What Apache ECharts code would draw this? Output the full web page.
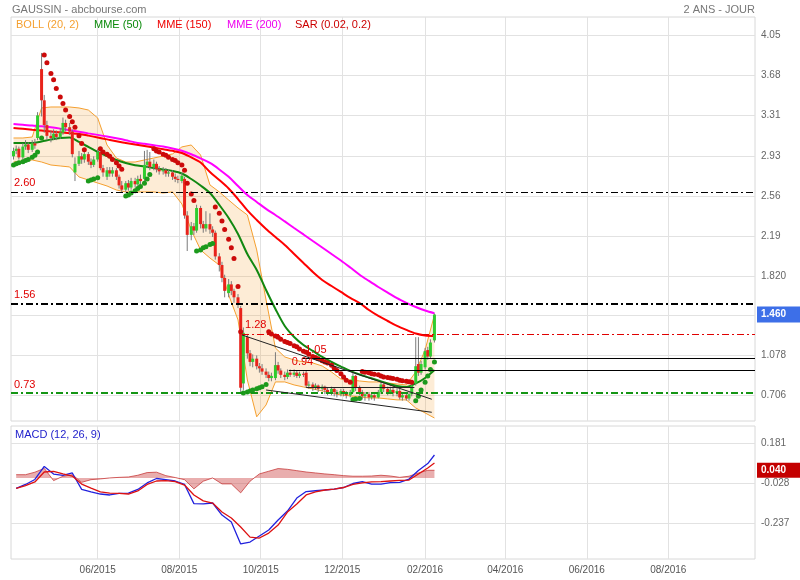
<!DOCTYPE html>
<html><head><meta charset="utf-8">
<script src="https://cdn.jsdelivr.net/npm/echarts@6/dist/echarts.min.js"></script>
<style>html,body{margin:0;padding:0;background:#fff}#c{width:800px;height:580px}</style>
</head><body><div id="c"></div>
<script>
const FONT = 'Liberation Sans, Arial, Helvetica, sans-serif';

// ---- DATA ----
const firstSession = '2015-03-30';           // Monday of first plotted session
const sessionWeekdays = [0, 2, 4];          // sessions sampled Mon / Wed / Fri
// candles: [open, close, low, high]
const candles = [
[2.93,2.98,2.90,3.01],[2.98,3.00,2.95,3.03],[3.00,2.92,2.90,3.02],
[2.92,3.02,2.90,3.05],[3.02,3.04,2.99,3.08],[3.04,2.99,2.96,3.06],
[2.99,3.05,2.97,3.08],[3.05,3.03,3.00,3.09],[3.10,3.31,3.08,3.34],
[3.74,3.45,3.30,3.89],[3.45,3.22,3.15,3.50],[3.22,3.12,3.08,3.26],
[3.12,3.10,3.06,3.17],[3.10,3.14,3.08,3.18],[3.14,3.11,3.08,3.17],
[3.11,3.15,3.09,3.19],[3.15,3.24,3.13,3.29],[3.24,3.20,3.16,3.27],
[3.20,3.16,3.13,3.24],[3.16,2.95,2.92,3.18],[2.78,2.86,2.70,2.92],
[2.86,2.93,2.84,2.98],[2.93,2.90,2.86,2.96],[2.90,2.95,2.87,2.98],
[2.95,2.88,2.85,2.97],[2.88,2.85,2.82,2.91],[2.85,2.90,2.83,2.93],
[2.90,2.97,2.88,3.00],[2.97,2.82,2.80,2.99],[2.82,2.78,2.74,2.85],
[2.74,2.80,2.71,2.83],[2.80,2.77,2.74,2.83],[2.77,2.80,2.74,2.83],
[2.80,2.74,2.71,2.82],[2.74,2.66,2.63,2.76],[2.66,2.62,2.60,2.70],
[2.62,2.68,2.60,2.70],[2.68,2.64,2.61,2.71],[2.64,2.70,2.62,2.73],
[2.70,2.67,2.64,2.73],[2.67,2.72,2.65,2.75],[2.72,2.70,2.67,2.76],
[2.72,2.85,2.70,2.98],[2.85,2.88,2.82,2.99],[2.88,2.83,2.80,2.97],
[2.83,2.86,2.80,2.90],[2.86,2.81,2.78,2.88],[2.81,2.79,2.76,2.84],
[2.79,2.80,2.76,2.83],[2.80,2.77,2.74,2.82],[2.77,2.78,2.74,2.81],
[2.78,2.74,2.71,2.80],[2.74,2.72,2.69,2.77],[2.72,2.71,2.68,2.75],
[2.70,2.75,2.68,2.78],[2.72,2.38,2.35,2.74],[2.38,2.20,2.05,2.42],
[2.20,2.28,2.15,2.32],[2.28,2.24,2.20,2.31],[2.24,2.45,2.22,2.48],
[2.45,2.30,2.26,2.47],[2.30,2.26,2.22,2.33],[2.26,2.30,2.23,2.42],
[2.30,2.25,2.21,2.40],[2.25,2.22,2.18,2.28],[2.22,2.00,1.97,2.24],
[2.00,1.92,1.86,2.03],[1.92,1.80,1.76,1.95],[1.80,1.68,1.62,1.83],
[1.66,1.74,1.62,1.79],[1.74,1.68,1.64,1.77],[1.68,1.62,1.57,1.70],
[1.62,1.55,1.52,1.65],[1.52,0.78,0.73,1.54],[0.82,1.29,0.76,1.34],
[1.25,1.10,1.05,1.28],[1.10,1.02,0.98,1.13],[1.02,1.05,0.97,1.09],
[1.05,0.98,0.95,1.08],[0.98,0.96,0.92,1.01],[0.96,0.93,0.90,1.00],
[0.93,0.90,0.87,0.96],[0.90,0.87,0.84,0.93],[0.87,0.89,0.84,0.92],
[0.87,0.99,0.85,1.11],[0.99,0.94,0.91,1.02],[0.94,0.90,0.87,0.96],
[0.90,0.88,0.85,0.93],[0.88,0.92,0.86,0.95],[0.92,0.90,0.88,0.95],
[0.90,0.92,0.88,0.95],[0.92,0.89,0.87,0.94],[0.89,0.91,0.87,0.93],
[0.91,0.90,0.88,0.93],[0.92,0.80,0.78,0.94],[0.80,0.81,0.77,0.84],
[0.81,0.78,0.75,0.83],[0.78,0.80,0.76,0.82],[0.80,0.77,0.74,0.81],
[0.77,0.79,0.75,0.81],[0.79,0.76,0.72,0.80],[0.76,0.74,0.71,0.78],
[0.74,0.77,0.71,0.79],[0.77,0.74,0.70,0.78],[0.74,0.72,0.69,0.76],
[0.72,0.75,0.70,0.77],[0.75,0.73,0.70,0.77],[0.73,0.71,0.68,0.75],
[0.71,0.74,0.69,0.76],[0.74,0.89,0.73,0.92],[0.89,0.78,0.75,0.90],
[0.78,0.74,0.71,0.80],[0.74,0.70,0.67,0.76],[0.70,0.72,0.66,0.74],
[0.72,0.69,0.66,0.74],[0.69,0.71,0.67,0.73],[0.71,0.69,0.66,0.72],
[0.69,0.74,0.68,0.76],[0.74,0.81,0.72,0.83],[0.81,0.77,0.74,0.82],
[0.77,0.74,0.71,0.79],[0.74,0.76,0.72,0.79],[0.76,0.73,0.70,0.78],
[0.73,0.75,0.70,0.78],[0.75,0.69,0.67,0.77],[0.69,0.71,0.66,0.73],
[0.71,0.68,0.66,0.73],[0.68,0.72,0.66,0.74],[0.72,0.80,0.70,0.82],
[0.82,0.98,0.80,1.25],[1.00,0.92,0.89,1.25],[0.92,1.00,0.90,1.03],
[0.97,1.12,0.95,1.15],[1.13,1.07,1.04,1.16],[1.07,1.20,1.05,1.23],
[1.22,1.46,1.20,1.47]
];
// Parabolic SAR (one value per session)
const sar = [
2.85,2.86,2.87,2.88,2.89,2.90,2.92,2.94,2.97,3.10,
3.87,3.80,3.70,3.64,3.56,3.48,3.42,3.36,3.30,3.25,
3.20,3.12,3.05,2.99,2.70,2.71,2.72,2.73,3.00,2.97,
2.95,2.93,2.90,2.87,2.84,2.81,2.56,2.57,2.59,2.61,
2.63,2.65,2.68,2.72,2.76,3.00,2.98,2.97,2.95,2.94,
2.92,2.90,2.89,2.87,2.85,2.80,2.68,2.58,2.52,2.05,
2.06,2.08,2.09,2.11,2.12,2.46,2.40,2.33,2.25,2.16,
2.08,1.98,1.72,1.30,0.73,0.74,0.75,0.76,0.77,0.78,
0.79,0.81,1.30,1.28,1.26,1.25,1.23,1.21,1.20,1.19,
1.17,1.16,1.14,1.12,1.11,1.09,1.07,1.06,1.05,1.03,
1.02,1.01,0.99,0.96,0.94,0.91,0.88,0.85,0.83,0.67,
0.675,0.68,0.93,0.925,0.92,0.91,0.905,0.90,0.89,0.88,
0.875,0.87,0.865,0.86,0.85,0.845,0.84,0.835,0.83,0.66,
0.70,0.76,0.83,0.89,0.95,1.02
];
// weekly indicator readings (Monday of each week)
const mme50 = [3.054,3.054,3.054,3.068,3.086,3.100,3.105,3.063,3.017,2.970,2.933,2.896,2.868,2.847,2.835,2.821,2.808,2.794,2.770,2.719,2.659,2.589,2.478,2.357,2.208,2.022,1.874,1.688,1.512,1.354,1.252,1.177,1.122,1.066,1.019,0.977,0.936,0.903,0.875,0.848,0.820,0.796,0.787,0.820,0.871,0.945];
const mme150 = [3.193,3.185,3.177,3.169,3.160,3.153,3.145,3.137,3.122,3.105,3.087,3.069,3.054,3.039,3.025,3.011,2.996,2.981,2.961,2.919,2.872,2.784,2.710,2.631,2.533,2.427,2.338,2.255,2.180,2.106,2.023,1.939,1.855,1.781,1.725,1.670,1.614,1.567,1.502,1.447,1.400,1.354,1.317,1.284,1.266,1.261];
const mme200 = [3.230,3.223,3.215,3.209,3.200,3.187,3.172,3.158,3.143,3.129,3.114,3.097,3.079,3.059,3.046,3.033,3.020,3.003,2.981,2.949,2.910,2.868,2.808,2.739,2.654,2.571,2.506,2.441,2.385,2.325,2.264,2.204,2.143,2.083,2.022,1.962,1.897,1.830,1.772,1.716,1.664,1.612,1.569,1.530,1.497,1.472];
const bollUpper = [3.100,3.100,3.109,3.379,3.388,3.388,3.388,3.379,3.360,3.286,3.035,2.914,2.877,2.877,2.896,2.914,2.933,2.952,3.017,3.035,2.942,2.664,2.599,2.524,2.450,2.385,2.060,1.595,1.149,1.066,1.038,1.019,1.010,0.982,0.926,0.861,0.852,0.843,0.834,0.834,0.824,0.815,0.806,0.927,1.131,1.456];
const bollLower = [2.877,2.886,2.896,2.877,2.849,2.840,2.831,2.738,2.710,2.682,2.654,2.617,2.599,2.599,2.599,2.599,2.589,2.599,2.487,2.245,2.060,1.985,1.920,1.642,1.410,0.852,0.510,0.620,0.834,0.834,0.806,0.787,0.769,0.750,0.731,0.713,0.704,0.694,0.685,0.685,0.676,0.667,0.667,0.592,0.546,0.499];
// MACD readings (Wednesday of each week, last = last session)
const macdLine = [-0.055,-0.034,-0.008,0.060,0.020,0.013,0.026,-0.060,-0.073,-0.084,-0.089,-0.081,-0.079,-0.060,-0.026,-0.003,-0.009,-0.016,-0.034,-0.134,-0.135,-0.131,-0.194,-0.230,-0.345,-0.335,-0.303,-0.272,-0.220,-0.173,-0.105,-0.071,-0.067,-0.063,-0.058,-0.050,-0.029,-0.019,-0.032,-0.032,-0.024,-0.023,-0.006,0.039,0.075,0.120];
const macdSignal = [-0.055,-0.040,-0.021,0.031,0.034,0.021,0.010,-0.032,-0.053,-0.073,-0.079,-0.081,-0.084,-0.068,-0.034,-0.016,-0.014,-0.019,-0.037,-0.089,-0.120,-0.131,-0.178,-0.209,-0.256,-0.309,-0.314,-0.288,-0.246,-0.178,-0.136,-0.089,-0.073,-0.063,-0.058,-0.050,-0.034,-0.026,-0.021,-0.019,-0.016,-0.013,-0.011,0.021,0.052,0.078];
const macdHist = [0.017,0.017,0.030,0.050,-0.014,0.009,0.017,-0.023,-0.009,-0.005,0,0.003,0.005,0.014,0.028,0.030,0.012,0.002,-0.009,-0.057,-0.017,0,-0.031,-0.031,-0.078,-0.017,0.021,0.035,0.049,0.045,0.038,0.031,0.026,0.021,0.017,0.012,0.009,0.009,0.010,0.014,0.010,0.003,0.009,0.026,0.040,0.040];

const xTickLabels = ['06/2015','08/2015','10/2015','12/2015','02/2016','04/2016','06/2016','08/2016'];
const yTickLabels = ['0.706','1.078','1.449','1.820','2.19','2.56','2.93','3.31','3.68','4.05'];
const macdTickLabels = ['-0.237','-0.028','0.181'];
const axisStart = '2015-03-28 03';
const axisEnd = '2016-10-04 21';
const mainRange = [0.471, 4.224];
const macdRange = [-0.4235, 0.2714];

const fullLevels = [2.60, 1.56, 0.73];
const segLevelStarts = ['2015-09-17', '2015-11-01', '2015-10-22'];
const segLevelValues = [1.28, 1.05, 0.94];
const boxLine = [['2015-11-04', 0.78], ['2016-01-24', 0.78]];
const trendA = [['2015-09-17', 1.27], ['2016-02-06', 0.673]];
const trendB = [['2015-10-05', 0.759], ['2016-02-06', 0.552]];
const lastPriceTag = 1.46;
const lastHistTag = 0.040;

// ---- BUILD ----
function ts(s) {
  const p = s.split(' ');
  const d = p[0].split('-').map(Number);
  return new Date(d[0], d[1] - 1, d[2], p[1] ? Number(p[1]) : 0).getTime();
}
const f0 = firstSession.split('-').map(Number);
const dates = candles.map((_, i) => new Date(f0[0], f0[1] - 1, f0[2] + 7 * Math.floor(i / 3) + sessionWeekdays[i % 3]).getTime());
const weekDates = mme50.map((_, w) => dates[Math.min(3 * w, dates.length - 1)]);
const macdDates = macdLine.map((_, w) => dates[Math.min(3 * w + 1, dates.length - 1)]);
const tMin = ts(axisStart), tMax = ts(axisEnd);
const xTicks = xTickLabels.map(s => { const p = s.split('/').map(Number); return new Date(p[1], p[0] - 1, 1).getTime(); });
const yTicks = yTickLabels.map(Number);
const macdTicks = macdTickLabels.map(Number);
function nearestLabel(v, ticks, labels) {
  let bi = 0, bd = Infinity;
  ticks.forEach((t, i) => { const d = Math.abs(t - v); if (d < bd) { bd = d; bi = i; } });
  return labels[bi];
}
const pair = (xs, ys) => xs.map((x, i) => [x, ys[i]]);

const sarGreen = [], sarRed = [];
sar.forEach((v, i) => { (v < candles[i][1] ? sarGreen : sarRed).push([dates[i], v]); });

const dashDot = [7, 3, 2, 3];
const lvlLabel = (txt) => ({ show: true, formatter: txt, position: 'insideStartTop', color: '#e00000', fontSize: 11, fontFamily: FONT, distance: 3 });
const fullStyles = [
  { color: '#000', width: 1, type: dashDot },
  { color: '#000', width: 2, type: dashDot },
  { color: '#149614', width: 2, type: dashDot }
];
const segStyles = [
  { color: '#e00000', width: 1, type: dashDot },
  { color: '#000', width: 1, type: 'solid' },
  { color: '#000', width: 1, type: 'solid' }
];
const markLines = [];
fullLevels.forEach((v, i) => markLines.push({ yAxis: v, lineStyle: fullStyles[i], label: lvlLabel(v.toFixed(2)) }));
segLevelValues.forEach((v, i) => markLines.push([
  { coord: [ts(segLevelStarts[i]), v], lineStyle: segStyles[i], label: lvlLabel(v.toFixed(2)) },
  { coord: [tMax, v] }
]));
[boxLine, trendA, trendB].forEach(l => markLines.push([
  { coord: [ts(l[0][0]), l[0][1]], lineStyle: { color: '#222', width: 1, type: 'solid' }, label: { show: false } },
  { coord: [ts(l[1][0]), l[1][1]] }
]));

const gridLine = { show: true, lineStyle: { color: '#e2e2e2', width: 1 } };
const titles = [
  { text: 'GAUSSIN - abcbourse.com', left: 12, top: 4, color: '#777' },
  { text: '2 ANS - JOUR', right: 45, top: 4, color: '#777' },
  { text: 'BOLL (20, 2)', left: 16, top: 19, color: '#f5a030' },
  { text: 'MME (50)', left: 94, top: 19, color: '#0a8a0a' },
  { text: 'MME (150)', left: 157, top: 19, color: '#ee0000' },
  { text: 'MME (200)', left: 227, top: 19, color: '#ee00ee' },
  { text: 'SAR (0.02, 0.2)', left: 295, top: 19, color: '#cc0000' },
  { text: 'MACD (12, 26, 9)', left: 15, top: 429, color: '#2222cc' }
].map(t => ({ text: t.text, left: t.left, right: t.right, top: t.top, padding: 0,
  textStyle: { fontSize: 11, fontWeight: 'normal', color: t.color, fontFamily: FONT } }));

const chart = echarts.init(document.getElementById('c'), null, { renderer: 'canvas' });
chart.setOption({
  animation: false,
  backgroundColor: '#fff',
  textStyle: { fontFamily: FONT },
  title: titles,
  grid: [
    { left: 11, top: 17, width: 744, height: 404, show: true, borderColor: '#d8d8d8', borderWidth: 1, backgroundColor: 'transparent', outerBoundsMode: 'none' },
    { left: 11, top: 426, width: 744, height: 133, show: true, borderColor: '#d8d8d8', borderWidth: 1, backgroundColor: 'transparent', outerBoundsMode: 'none' }
  ],
  xAxis: [0, 1].map(g => ({
    type: 'value', gridIndex: g, min: tMin, max: tMax, scale: true,
    axisLine: { show: false },
    axisTick: { show: false, customValues: xTicks },
    axisLabel: g === 1 ? { show: true, customValues: xTicks, color: '#555', fontSize: 10, margin: 6, fontFamily: FONT,
      formatter: v => nearestLabel(v, xTicks, xTickLabels) } : { show: false, customValues: xTicks },
    splitLine: gridLine
  })),
  yAxis: [
    { type: 'value', gridIndex: 0, position: 'right', min: mainRange[0], max: mainRange[1],
      axisLine: { show: false }, axisTick: { show: false, customValues: yTicks },
      axisLabel: { customValues: yTicks, color: '#666', fontSize: 10, margin: 6, fontFamily: FONT, formatter: v => nearestLabel(v, yTicks, yTickLabels) },
      splitLine: gridLine },
    { type: 'value', gridIndex: 1, position: 'right', min: macdRange[0], max: macdRange[1],
      axisLine: { show: false }, axisTick: { show: false, customValues: macdTicks },
      axisLabel: { customValues: macdTicks, color: '#666', fontSize: 10, margin: 6, fontFamily: FONT, formatter: v => nearestLabel(v, macdTicks, macdTickLabels) },
      splitLine: gridLine }
  ],
  series: [
    { name: 'bollFill', type: 'custom', xAxisIndex: 0, yAxisIndex: 0, z: 1, silent: true,
      data: weekDates.map((t, w) => [t, bollUpper[w], bollLower[w]]),
      encode: { x: 0, y: [1, 2] },
      renderItem: (params, api) => {
        if (params.dataIndex !== 0) return null;
        const up = weekDates.map((t, w) => api.coord([t, bollUpper[w]]));
        const lo = weekDates.map((t, w) => api.coord([t, bollLower[w]])).reverse();
        return { type: 'polygon', shape: { points: up.concat(lo) }, style: { fill: 'rgba(245,160,48,0.2)' } };
      } },
    { name: 'bollUp', type: 'line', xAxisIndex: 0, yAxisIndex: 0, symbol: 'none', z: 1,
      data: pair(weekDates, bollUpper), lineStyle: { color: '#f5a030', width: 1 } },
    { name: 'bollLow', type: 'line', xAxisIndex: 0, yAxisIndex: 0, symbol: 'none', z: 1,
      data: pair(weekDates, bollLower), lineStyle: { color: '#f5a030', width: 1 } },
    { name: 'MME200', type: 'line', xAxisIndex: 0, yAxisIndex: 0, symbol: 'none', z: 2, clip: false,
      data: pair(weekDates, mme200), smooth: 0.3, lineStyle: { color: '#ff00ff', width: 2 },
      markLine: { symbol: 'none', silent: true, animation: false, data: markLines },
      markPoint: { symbol: 'rect', symbolSize: [44, 16], symbolOffset: [24, 0], silent: true, animation: false,
        itemStyle: { color: '#3d6fe8' },
        label: { show: true, position: 'insideLeft', distance: 4, color: '#fff', fontWeight: 'bold', fontSize: 10, fontFamily: FONT,
          formatter: p => p.value.toFixed(3) },
        data: [{ coord: [tMax, lastPriceTag], value: lastPriceTag }] } },
    { name: 'MME150', type: 'line', xAxisIndex: 0, yAxisIndex: 0, symbol: 'none', z: 2, smooth: 0.3,
      data: pair(weekDates, mme150), lineStyle: { color: '#ff0000', width: 2 } },
    { name: 'MME50', type: 'line', xAxisIndex: 0, yAxisIndex: 0, symbol: 'none', z: 2, smooth: 0.3,
      data: pair(weekDates, mme50), lineStyle: { color: '#118811', width: 2 } },
    { name: 'price', type: 'custom', xAxisIndex: 0, yAxisIndex: 0, z: 3,
      data: dates.map((t, i) => [t].concat(candles[i])),
      encode: { x: 0, y: [1, 2, 3, 4] },
      renderItem: (params, api) => {
        const x = api.value(0), o = api.value(1), c = api.value(2), l = api.value(3), h = api.value(4);
        const pO = api.coord([x, o]), pC = api.coord([x, c]), pL = api.coord([x, l]), pH = api.coord([x, h]);
        const up = c >= o;
        const top = Math.min(pO[1], pC[1]);
        return { type: 'group', children: [
          { type: 'line', shape: { x1: pL[0], y1: pL[1], x2: pH[0], y2: pH[1] }, style: { stroke: '#7a7a7a', lineWidth: 1 } },
          { type: 'rect', shape: { x: pO[0] - 1.5, y: top, width: 3, height: Math.max(1, Math.abs(pO[1] - pC[1])) },
            style: { fill: up ? '#2fcc2f' : '#e8231b' } }
        ] };
      } },
    { name: 'SARup', type: 'scatter', xAxisIndex: 0, yAxisIndex: 0, z: 4, symbolSize: 5,
      data: sarGreen, itemStyle: { color: '#1c9a1c', opacity: 1 } },
    { name: 'SARdown', type: 'scatter', xAxisIndex: 0, yAxisIndex: 0, z: 4, symbolSize: 5,
      data: sarRed, itemStyle: { color: '#cc0a0a', opacity: 1 } },
    { name: 'hist', type: 'line', xAxisIndex: 1, yAxisIndex: 1, symbol: 'none', z: 1, clip: false,
      data: pair(macdDates, macdHist), lineStyle: { color: 'rgba(200,60,60,0.8)', width: 1 },
      areaStyle: { color: 'rgba(205,70,70,0.62)' },
      markPoint: { symbol: 'rect', symbolSize: [44, 15], symbolOffset: [24, 0], silent: true, animation: false,
        itemStyle: { color: '#c40000' },
        label: { show: true, position: 'insideLeft', distance: 4, color: '#fff', fontWeight: 'bold', fontSize: 10, fontFamily: FONT,
          formatter: p => p.value.toFixed(3) },
        data: [{ coord: [tMax, lastHistTag], value: lastHistTag }] } },
    { name: 'MACD', type: 'line', xAxisIndex: 1, yAxisIndex: 1, symbol: 'none', z: 2,
      data: pair(macdDates, macdLine), lineStyle: { color: '#2222dd', width: 1.3 } },
    { name: 'signal', type: 'line', xAxisIndex: 1, yAxisIndex: 1, symbol: 'none', z: 2,
      data: pair(macdDates, macdSignal), lineStyle: { color: '#dd1111', width: 1.3 } }
  ]
});
</script></body></html>
